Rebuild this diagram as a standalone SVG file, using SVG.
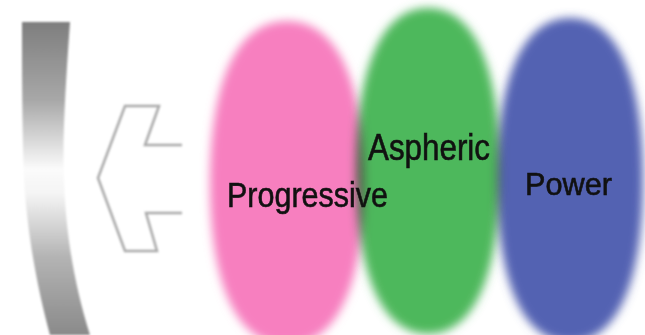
<svg xmlns="http://www.w3.org/2000/svg" width="645" height="335" viewBox="0 0 645 335">
<defs>
<filter id="blur" x="-20%" y="-20%" width="140%" height="140%"><feGaussianBlur stdDeviation="5"/></filter>
<filter id="soft" x="-20%" y="-20%" width="140%" height="140%"><feGaussianBlur stdDeviation="1.2"/></filter>
<linearGradient id="band" x1="0" y1="22" x2="0" y2="335" gradientUnits="userSpaceOnUse">
<stop offset="0" stop-color="#7e7e7e"/>
<stop offset="0.25" stop-color="#a8a8a8"/>
<stop offset="0.47" stop-color="#fbfbfb"/>
<stop offset="0.55" stop-color="#f4f4f4"/>
<stop offset="0.75" stop-color="#b4b4b4"/>
<stop offset="1" stop-color="#8a8a8a"/>
</linearGradient>
<style>
.lbl{font-family:"Liberation Sans",Arial,sans-serif;fill:#111;stroke:#111;stroke-width:0.6;}
.ell{filter:url(#blur);mix-blend-mode:multiply;}
</style>
</defs>
<rect width="645" height="335" fill="#fff"/>
<g id="lens">
<path d="M22,22 L70,22 C66,80 62,140 64,180 C66,240 76,290 90,335 L50,335 C38,290 28,240 24,180 C22,120 22,70 22,22 Z" fill="url(#band)" filter="url(#soft)"/>
</g>
<g id="connectors">
<path id="arrow" d="M182,145 L145,145 L159,106 L125,106 L98,178 L125,251 L157,251 L146,213 L182,213" fill="none" stroke="#a9a9a9" stroke-width="2.5" stroke-linejoin="miter" filter="url(#soft)"/>
</g>
<g id="blend" style="isolation:isolate">
<g id="progressive-shape"><path class="ell" fill="#f77fbf" d="M287,21 C336.3,21 364,79.3 364,183 C364,286.7 336.3,345 287,345 C237.7,345 210,286.7 210,183 C210,79.3 237.7,21 287,21 Z"/></g>
<g id="aspheric-shape"><path class="ell" fill="#4db85b" d="M428,8 C474.1,8 500,66.7 500,171 C500,275.3 474.1,334 428,334 C381.9,334 356,275.3 356,171 C356,66.7 381.9,8 428,8 Z"/></g>
<g id="power-shape"><path class="ell" fill="#5262b2" d="M570,18 C616.7,18 643,76.3 643,180 C643,283.7 616.7,342 570,342 C523.3,342 497,283.7 497,180 C497,76.3 523.3,18 570,18 Z"/></g>
</g>
<g id="progressive"><text class="lbl" x="227" y="207" font-size="35" textLength="161" lengthAdjust="spacingAndGlyphs">Progressive</text></g>
<g id="aspheric"><text class="lbl" x="368" y="160" font-size="36" textLength="122" lengthAdjust="spacingAndGlyphs">Aspheric</text></g>
<g id="power"><text class="lbl" x="525" y="195" font-size="32" textLength="87" lengthAdjust="spacingAndGlyphs">Power</text></g>
</svg>
